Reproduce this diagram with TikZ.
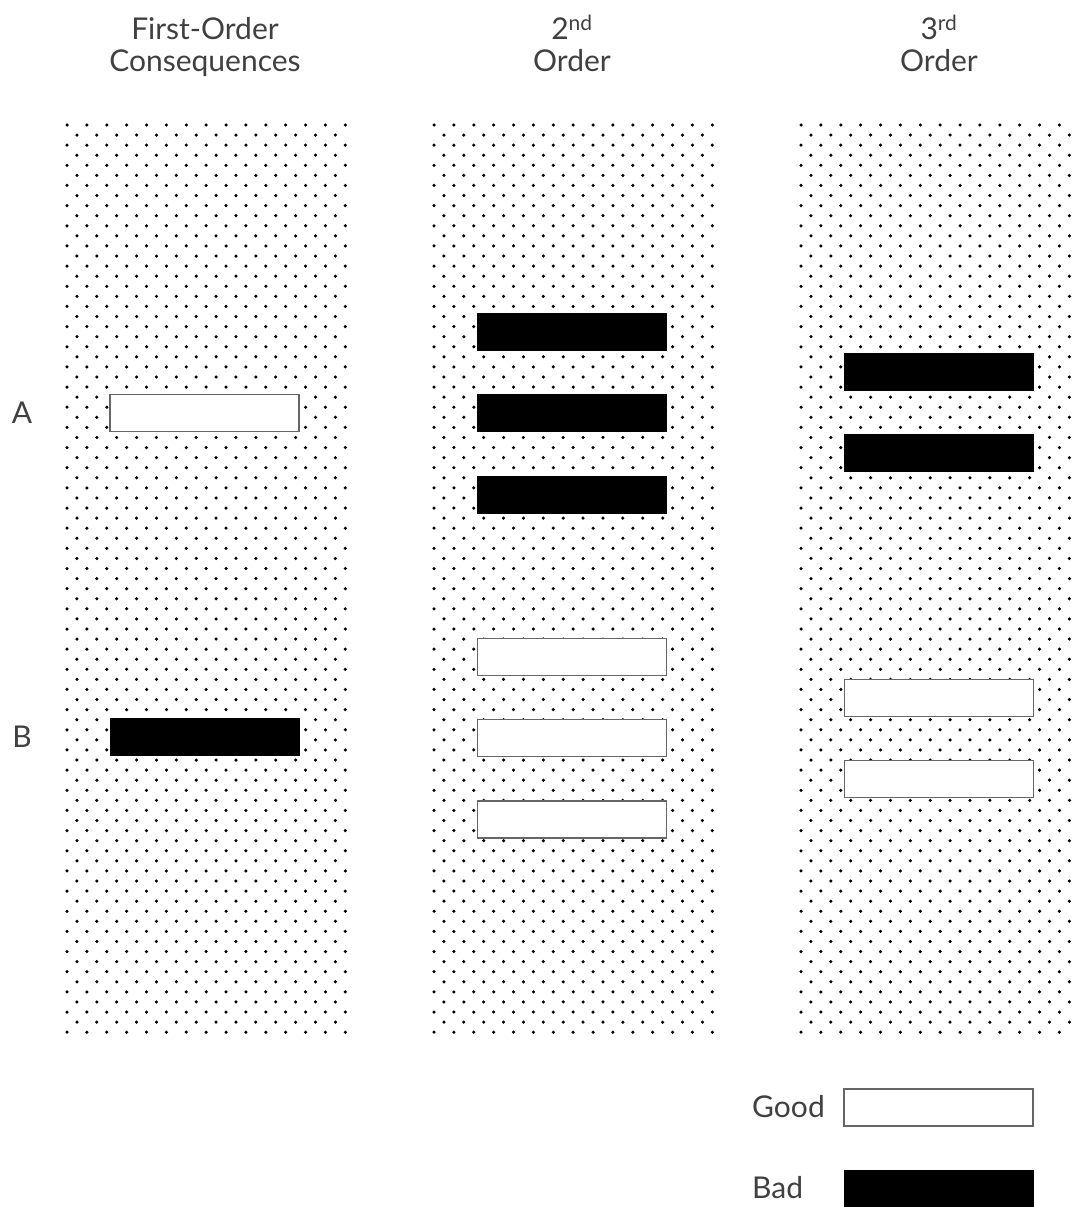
\documentclass[tikz,border=0pt]{standalone}
\usepackage{fontspec}
\setmainfont{Lato}
\usetikzlibrary{positioning}

\begin{document}
\begin{tikzpicture}[x=1pt, y=-1pt, node distance=43pt, every node/.style={font=\fontsize{30}{32}\selectfont, text=black!75, inner sep=0pt},
  head/.style={align=center, text depth=0pt, anchor=south},
  good/.style={draw=black!60, line width=1.2pt, fill=white, minimum width=189pt, minimum height=37pt},
  bad/.style={fill=black, minimum width=190pt, minimum height=38pt}]
\useasboundingbox (0,0) rectangle (1075,1207);
\clip (0,0) rectangle (1075,1207);
\foreach \c in {67,434,801}
  \foreach \j in {0,...,90} {
    \pgfmathtruncatemacro{\n}{14-mod(\j,2)}
    \pgfmathsetmacro{\xs}{\c+mod(\j,2)*9.94}
    \pgfmathsetmacro{\ys}{125+\j*10.08}
    \foreach \i in {0,...,\n}
      \fill ({\xs+\i*19.88}, \ys) circle (1.75pt);
  }
\node[head] (first) at (205,72) {First-Order\\Consequences};
\node[head] (second) at (572,72) {2\textsuperscript{nd}\\Order};
\node[head] (third) at (939,72) {3\textsuperscript{rd}\\Order};
\node[good] (a1) at (204.5,413) {};
\node[bad] (b1) at (204.5,737) {};
\node (la) at (22,413) {A};
\node (lb) at (22,737) {B};
\node[bad] (bad2a) at (572,332) {};
\node[bad, below=of bad2a] (bad2b) {};
\node[bad, below=of bad2b] (bad2c) {};
\node[good, below=124pt of bad2c] (good2a) {};
\node[good, below=of good2a] (good2b) {};
\node[good, below=of good2b] (good2c) {};
\node[bad] (bad3a) at (939,372) {};
\node[bad, below=of bad3a] (bad3b) {};
\node[good, below=206pt of bad3b] (good3a) {};
\node[good, below=of good3a] (good3b) {};
\node[good] (lgood) at (938.5,1107.5) {};
\node[bad] (lbad) at (938.5,1188.5) {};
\node[anchor=west] (tgood) at (752,1107) {Good};
\node[anchor=west] (tbad) at (752,1188) {Bad};
\end{tikzpicture}
\end{document}
